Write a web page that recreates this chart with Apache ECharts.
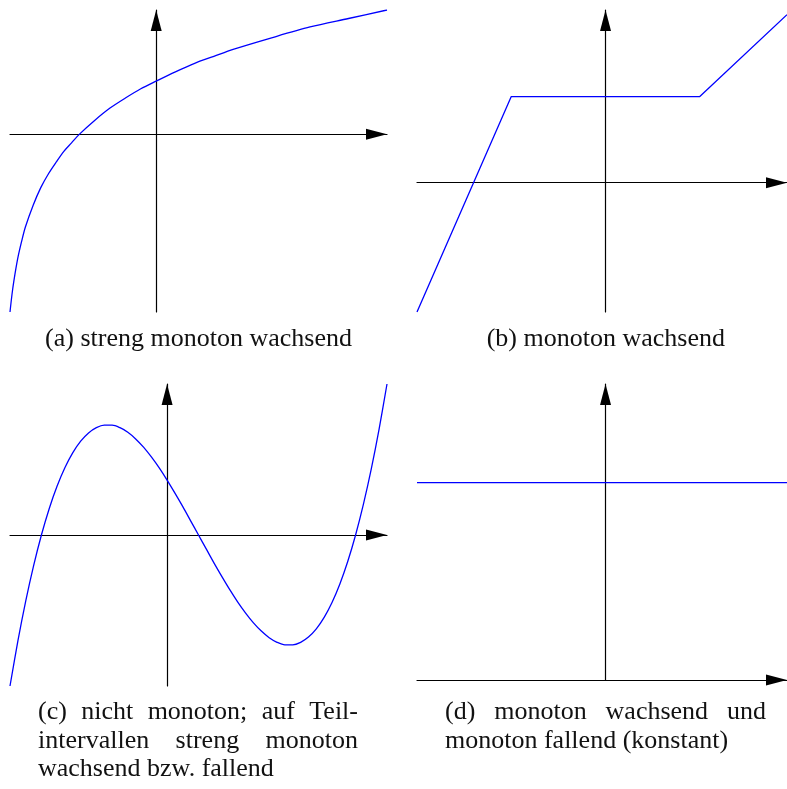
<!DOCTYPE html>
<html>
<head>
<meta charset="utf-8">
<script src="https://cdn.jsdelivr.net/npm/echarts@6/dist/echarts.min.js"></script>
<style>
html, body { margin: 0; padding: 0; background: #fff; }
#main { width: 787px; height: 789px; }
</style>
</head>
<body>
<div id="main"></div>
<script>
// (a) streng monoton wachsend
var xRangeA = [-1.9, 3];
var yRangeA = [-2.3, 1.61];
var xA = [-1.9,-1.875,-1.85,-1.8,-1.75,-1.7,-1.6,-1.5,-1.4,-1.3,-1.2,-1.1,-1,-0.8,-0.6,-0.4,-0.2,0,0.25,0.5,0.75,1,1.5,2,2.5,3];
var yA = [-2.30,-2.08,-1.90,-1.61,-1.39,-1.20,-0.92,-0.69,-0.51,-0.36,-0.22,-0.11,0,0.18,0.34,0.47,0.59,0.69,0.81,0.92,1.01,1.10,1.25,1.39,1.50,1.61];

// (b) monoton wachsend
var xRangeB = [-4, 3.85];
var yRangeB = [-2.75, 3.67];
var xB = [-4, -2, 2, 3.85];
var yB = [-2.75, 1.83, 1.83, 3.57];

// (c) nicht monoton
var xRangeC = [-5, 7];
var yRangeC = [-66, 66];
var xC = [-5,-4.75,-4.5,-4.25,-4,-3.75,-3.5,-3.25,-3,-2.75,-2.5,-2.25,-2,-1.75,-1.5,-1.25,-1,-0.75,-0.5,-0.25,
	0,0.25,0.5,0.75,1,1.25,1.5,1.75,2,2.25,2.5,2.75,3,3.25,3.5,3.75,4,4.25,4.5,4.75,5,5.25,5.5,5.75,6,6.25,6.5,6.75,7];
var yC = [-66,-46.4,-28.9,-13.5,0,11.6,21.4,29.5,36,41,44.6,46.9,48,48,46.9,44.9,42,38.4,34.1,29.3,
	24,18.3,12.4,6.2,0,-6.2,-12.4,-18.3,-24,-29.3,-34.1,-38.4,-42,-44.9,-46.9,-48,-48,-46.9,-44.6,-41,-36,-29.5,-21.4,-11.6,0,13.5,28.9,46.4,66];

// (d) konstant
var xRangeD = [-4, 3.85];
var yRangeD = [0, 3];
var xD = [-4, 3.85];
var yD = [2, 2];

// Beschriftungen
var captionA = '(a) streng monoton wachsend';
var captionB = '(b) monoton wachsend';
var captionC = ['(c) nicht monoton; auf Teil-', 'intervallen streng monoton', 'wachsend bzw. fallend'];
var captionD = ['(d) monoton wachsend und', 'monoton fallend (konstant)'];

var FONT = '"Liberation Serif", "DejaVu Serif", serif';
var FS = 26;
var ctx = document.createElement('canvas').getContext('2d');
ctx.font = FS + 'px ' + FONT;

function txt(s, x, baseline, align) {
	return {
		type: 'text', x: x, y: baseline - 0.305 * FS, silent: true,
		style: { text: s, fontFamily: FONT, fontSize: FS, fill: '#111', align: align, verticalAlign: 'middle' }
	};
}
// Blocksatz: Wörter einzeln setzen
function justify(line, left, right, baseline) {
	var ws = line.split(' ');
	var widths = ws.map(function (w) { return ctx.measureText(w).width; });
	var total = widths.reduce(function (a, b) { return a + b; }, 0);
	var gap = (right - left - total) / (ws.length - 1);
	var x = left, out = [];
	for (var i = 0; i < ws.length; i++) {
		out.push(txt(ws[i], x, baseline, 'left'));
		x += widths[i] + gap;
	}
	return out;
}

function axis(idx, range) {
	return {
		type: 'value', gridIndex: idx, min: range[0], max: range[1],
		axisLine: {
			show: true, onZero: true,
			symbol: ['none', 'triangle'], symbolSize: [11, 21], symbolOffset: [0, -10.5],
			lineStyle: { color: '#000', width: 1.2 }
		},
		axisTick: { show: false }, axisLabel: { show: false }, splitLine: { show: false }
	};
}
function pairs(xs, ys) {
	return xs.map(function (x, i) { return [x, ys[i]]; });
}
function curve(idx, data, smooth) {
	return {
		type: 'line', xAxisIndex: idx, yAxisIndex: idx, data: data,
		symbol: 'none', smooth: smooth,
		lineStyle: { color: '#0000ff', width: 1.3 }, z: 1
	};
}

var graphics = [
	txt(captionA, 198.5, 347.5, 'center'),
	txt(captionB, 605.8, 347.5, 'center')
].concat(
	justify(captionC[0], 38, 358, 720),
	justify(captionC[1], 38, 358, 749),
	[txt(captionC[2], 38, 777, 'left')],
	justify(captionD[0], 445, 766, 720),
	[txt(captionD[1], 445, 749, 'left')]
);

var option = {
	animation: false,
	backgroundColor: '#fff',
	grid: [
		{ left: 10, top: 10, width: 377, height: 302 },
		{ left: 417, top: 10, width: 370, height: 302 },
		{ left: 10, top: 384, width: 377, height: 302 },
		{ left: 417, top: 384, width: 370, height: 296 }
	],
	xAxis: [axis(0, xRangeA), axis(1, xRangeB), axis(2, xRangeC), axis(3, xRangeD)],
	yAxis: [axis(0, yRangeA), axis(1, yRangeB), axis(2, yRangeC), axis(3, yRangeD)],
	series: [
		curve(0, pairs(xA, yA), 0.3),
		curve(1, pairs(xB, yB), false),
		curve(2, pairs(xC, yC), 0.3),
		curve(3, pairs(xD, yD), false)
	],
	graphic: graphics
};

var chart = echarts.init(document.getElementById('main'));
chart.setOption(option);
</script>
</body>
</html>
